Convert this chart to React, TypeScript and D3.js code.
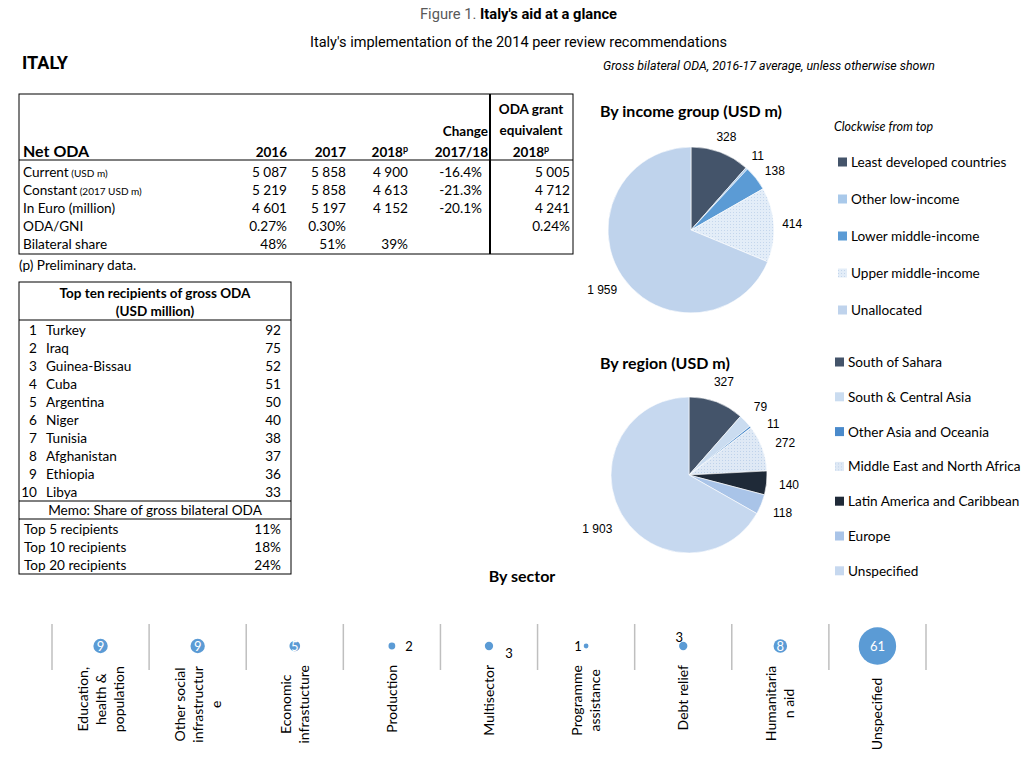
import React from 'react';
import * as d3 from 'd3';

// ---------------- DATA ----------------
const netOdaYears = ['2016', '2017', '2018'];
const netOdaRowLabels = ['Current', 'Constant', 'In Euro (million)', 'ODA/GNI', 'Bilateral share'];
const netOdaRowNotes = ['(USD m)', '(2017 USD m)', '', '', ''];
const oda2016 = ['5 087', '5 219', '4 601', '0.27%', '48%'];
const oda2017 = ['5 858', '5 858', '5 197', '0.30%', '51%'];
const oda2018 = ['4 900', '4 613', '4 152', '', '39%'];
const odaChange = ['-16.4%', '-21.3%', '-20.1%', '', ''];
const odaGrantEq = ['5 005', '4 712', '4 241', '0.24%', ''];

const recipients = ['Turkey', 'Iraq', 'Guinea-Bissau', 'Cuba', 'Argentina', 'Niger', 'Tunisia', 'Afghanistan', 'Ethiopia', 'Libya'];
const recipientValues = [92, 75, 52, 51, 50, 40, 38, 37, 36, 33];
const shareLabels = ['Top 5 recipients', 'Top 10 recipients', 'Top 20 recipients'];
const shareValues = ['11%', '18%', '24%'];

const incomeGroups = ['Least developed countries', 'Other low-income', 'Lower middle-income', 'Upper middle-income', 'Unallocated'];
const incomeValues = [328, 11, 138, 414, 1959];
const incomeLabels = ['328', '11', '138', '414', '1 959'];

const regionNames = ['South of Sahara', 'South & Central Asia', 'Other Asia and Oceania', 'Middle East and North Africa', 'Latin America and Caribbean', 'Europe', 'Unspecified'];
const regionValues = [327, 79, 11, 272, 140, 118, 1903];
const regionLabels = ['327', '79', '11', '272', '140', '118', '1 903'];

const sectorNames = ['Education, health & population', 'Other social infrastructure', 'Economic infrastucture', 'Production', 'Multisector', 'Programme assistance', 'Debt relief', 'Humanitarian aid', 'Unspecified'];
const sectorLabelLines = [
  ['Education,', 'health &', 'population'],
  ['Other social', 'infrastructur', 'e'],
  ['Economic', 'infrastucture'],
  ['Production'],
  ['Multisector'],
  ['Programme', 'assistance'],
  ['Debt relief'],
  ['Humanitaria', 'n aid'],
  ['Unspecified'],
];
const sectorValues = [9, 9, 5, 2, 3, 1, 3, 8, 61];

// ---------------- STYLE ----------------
const incomeColors = ['#44546a', '#a9c9ea', '#5b9bd5', 'url(#dotsA)', '#bfd3ec'];
const regionColors = ['#44546a', '#cadcf0', '#4a8acb', 'url(#dotsB)', '#1f2a38', '#a9c4e8', '#c6d8ef'];
const sectorLabelPlacement = ['center', 'center', 'center', 'right', 'rightBelow', 'left', 'above', 'center', 'center'];

const COND = "Roboto, 'Liberation Sans', sans-serif";
const CAL = "Lato, 'Open Sans', sans-serif";
const ARIAL = "'Liberation Sans', Arial, sans-serif";

let _ctx: CanvasRenderingContext2D | null = null;
function tw(text: string, font: string): number {
  if (!_ctx && typeof document !== 'undefined') _ctx = document.createElement('canvas').getContext('2d');
  if (!_ctx) return text.length * 6;
  _ctx.font = font;
  return _ctx.measureText(text).width;
}

function PieChart(props: {
  cx: number; cy: number; r: number; values: number[]; labels: string[]; colors: string[]; pad: number;
}) {
  const { cx, cy, r, values, labels, colors, pad } = props;
  const arcs = d3.pie<number>().sort(null).value((d) => d)(values);
  const arcGen = d3.arc<d3.PieArcDatum<number>>().innerRadius(0).outerRadius(r);
  const mids = arcs.map((a) => (a.startAngle + a.endAngle) / 2);
  const minSep = 0.22;
  for (let i = 1; i < mids.length; i++) {
    if (mids[i] - mids[i - 1] < minSep) mids[i] = mids[i - 1] + minSep;
  }
  const fs = 12;
  return (
    <g>
      <g transform={`translate(${cx},${cy})`}>
        {arcs.map((a, i) => (
          <path key={i} d={arcGen(a) || ''} fill={colors[i]} stroke="#ffffff" strokeWidth={0.6} />
        ))}
      </g>
      {arcs.map((a, i) => {
        const ang = mids[i];
        const w = tw(labels[i], `${fs}px ${ARIAL}`);
        const h = 12;
        const dist = r + pad + (w / 2) * Math.abs(Math.sin(ang)) + (h / 2) * Math.abs(Math.cos(ang));
        const x = cx + dist * Math.sin(ang);
        const y = cy - dist * Math.cos(ang);
        return (
          <text key={i} x={x} y={y} dy="0.35em" textAnchor="middle" fontFamily={ARIAL} fontSize={fs} fill="#000">
            {labels[i]}
          </text>
        );
      })}
    </g>
  );
}

function Legend(props: { x: number; y0: number; step: number; names: string[]; colors: string[] }) {
  const { x, y0, step, names, colors } = props;
  return (
    <g>
      {names.map((n, i) => (
        <g key={n} transform={`translate(${x},${y0 + i * step})`}>
          <rect x={0} y={-4.5} width={9} height={9} fill={colors[i]} />
          <text x={13} y={0} dy="0.36em" fontFamily={CAL} fontSize={13.6} fill="#000">{n}</text>
        </g>
      ))}
    </g>
  );
}

export default function App() {
  const t1 = { x0: 19, x1: 573, y0: 94, y1: 254, yh: 160, xv: 490 };
  const rowY = d3.range(netOdaRowLabels.length).map((i) => 172 + i * 18);
  const colRight = [287, 346, 408, 482, 570];
  const cols = [oda2016, oda2017, oda2018, odaChange, odaGrantEq];

  const t2 = { x0: 19, x1: 291, y0: 282, y1: 574 };
  const recY = d3.range(recipients.length).map((i) => 330 + i * 18);
  const shareY = d3.range(shareLabels.length).map((i) => 529 + i * 18);

  const xBand = d3.scaleBand<string>().domain(sectorNames).range([52, 926]);
  const rScale = d3.scaleSqrt().domain([0, 61]).range([0, 18.7]);
  const bubbleY = 646;
  const gridXs = sectorNames.map((s) => xBand(s) as number).concat([926]);

  return (
    <svg width={1036} height={766} style={{ position: 'absolute', left: 0, top: 0, background: '#fff' }}>
      <defs>
        <pattern id="dotsA" width={3} height={3} patternUnits="userSpaceOnUse">
          <rect width={3} height={3} fill="#e3edf8" />
          <rect width={1} height={1} fill="#c4d6ec" />
        </pattern>
        <pattern id="dotsB" width={3} height={3} patternUnits="userSpaceOnUse">
          <rect width={3} height={3} fill="#dfe9f5" />
          <rect width={1} height={1} fill="#bfd2ea" />
        </pattern>
      </defs>
      <rect width={1036} height={766} fill="#fff" />

      {/* Titles */}
      <text x={420} y={19} fontFamily={COND} fontSize={15.5} textLength={197} lengthAdjust="spacingAndGlyphs">
        <tspan fill="#595959">Figure 1. </tspan>
        <tspan fill="#000" fontWeight="bold">Italy's aid at a glance</tspan>
      </text>
      <text x={310} y={47} fontFamily={COND} fontSize={15} fill="#000" textLength={417} lengthAdjust="spacingAndGlyphs">
        Italy's implementation of the 2014 peer review recommendations
      </text>
      <text x={22} y={69} fontFamily={COND} fontSize={18} fontWeight="bold" fill="#000" textLength={46} lengthAdjust="spacingAndGlyphs">ITALY</text>
      <text x={603} y={70} fontFamily={COND} fontSize={12} fontStyle="italic" fontWeight={400} fill="#000" textLength={332} lengthAdjust="spacingAndGlyphs">
        Gross bilateral ODA, 2016-17 average, unless otherwise shown
      </text>

      {/* Net ODA table */}
      <g fontFamily={CAL} fill="#000">
        <rect x={t1.x0} y={t1.y0} width={t1.x1 - t1.x0} height={t1.y1 - t1.y0} fill="none" stroke="#000" strokeWidth={1} />
        <line x1={t1.x0} x2={t1.x1} y1={t1.yh} y2={t1.yh} stroke="#000" strokeWidth={1} />
        <line x1={t1.xv} x2={t1.xv} y1={t1.y0} y2={t1.y1} stroke="#000" strokeWidth={2} />
        <text x={23} y={157} fontSize={16} fontWeight="bold">Net ODA</text>
        {netOdaYears.map((yr, i) => (
          <text key={yr} x={colRight[i]} y={157} fontSize={13.5} fontWeight="bold" textAnchor="end">
            {yr}
            {i === 2 ? <tspan fontSize={9} dy={-5}>p</tspan> : null}
          </text>
        ))}
        <text x={488} y={136} fontSize={13.5} fontWeight="bold" textAnchor="end">Change</text>
        <text x={488} y={157} fontSize={13.5} fontWeight="bold" textAnchor="end">2017/18</text>
        <text x={531} y={114} fontSize={13.5} fontWeight="bold" textAnchor="middle">ODA grant</text>
        <text x={531} y={135} fontSize={13.5} fontWeight="bold" textAnchor="middle">equivalent</text>
        <text x={531} y={157} fontSize={13.5} fontWeight="bold" textAnchor="middle">
          2018<tspan fontSize={9} dy={-5}>p</tspan>
        </text>
        {netOdaRowLabels.map((lab, i) => (
          <text key={lab} x={23} y={rowY[i] + 5} fontSize={13.6}>
            {lab}
            {netOdaRowNotes[i] ? <tspan fontSize={10}>{' ' + netOdaRowNotes[i]}</tspan> : null}
          </text>
        ))}
        {cols.map((col, c) =>
          col.map((v, i) => (
            <text key={`${c}-${i}`} x={colRight[c]} y={rowY[i] + 5} fontSize={13.6} textAnchor="end">{v}</text>
          ))
        )}
        <text x={19} y={270} fontSize={13.6}>(p) Preliminary data.</text>
      </g>

      {/* Recipients table */}
      <g fontFamily={CAL} fill="#000">
        <rect x={t2.x0} y={t2.y0} width={t2.x1 - t2.x0} height={t2.y1 - t2.y0} fill="none" stroke="#000" strokeWidth={1} />
        <line x1={t2.x0} x2={t2.x1} y1={320} y2={320} stroke="#000" />
        <line x1={t2.x0} x2={t2.x1} y1={501} y2={501} stroke="#000" />
        <line x1={t2.x0} x2={t2.x1} y1={519} y2={519} stroke="#000" />
        <text x={155} y={298} fontSize={13.5} fontWeight="bold" textAnchor="middle">Top ten recipients of gross ODA</text>
        <text x={155} y={316} fontSize={13.5} fontWeight="bold" textAnchor="middle">(USD million)</text>
        {recipients.map((n, i) => (
          <g key={n}>
            <text x={37} y={recY[i] + 5} fontSize={13.6} textAnchor="end">{i + 1}</text>
            <text x={46} y={recY[i] + 5} fontSize={13.6}>{n}</text>
            <text x={281} y={recY[i] + 5} fontSize={13.6} textAnchor="end">{recipientValues[i]}</text>
          </g>
        ))}
        <text x={155} y={515} fontSize={13.6} textAnchor="middle">Memo:  Share of gross bilateral ODA</text>
        {shareLabels.map((n, i) => (
          <g key={n}>
            <text x={24} y={shareY[i] + 5} fontSize={13.6}>{n}</text>
            <text x={281} y={shareY[i] + 5} fontSize={13.6} textAnchor="end">{shareValues[i]}</text>
          </g>
        ))}
      </g>

      {/* Income pie */}
      <text x={600} y={117} fontFamily={CAL} fontSize={16} fontWeight="bold" fill="#000">By income group (USD m)</text>
      <PieChart cx={691} cy={230} r={83} values={incomeValues} labels={incomeLabels} colors={incomeColors} pad={8} />
      <text x={834} y={131} fontFamily={CAL} fontSize={12.5} fontStyle="italic" fill="#000">Clockwise from top</text>
      <Legend x={838} y0={162} step={37} names={incomeGroups} colors={incomeColors} />

      {/* Region pie */}
      <text x={600} y={369} fontFamily={CAL} fontSize={16} fontWeight="bold" fill="#000">By region (USD m)</text>
      <PieChart cx={689} cy={475} r={78} values={regionValues} labels={regionLabels} colors={regionColors} pad={12} />
      <Legend x={835} y0={362} step={34.8} names={regionNames} colors={regionColors} />

      {/* Sector */}
      <text x={522} y={582} fontFamily={CAL} fontSize={16} fontWeight="bold" fill="#000" textAnchor="middle">By sector</text>
      {gridXs.map((x, i) => (
        <line key={i} x1={x} x2={x} y1={624} y2={670} stroke="#bfbfbf" strokeWidth={1.5} />
      ))}
      {sectorNames.map((s, i) => {
        const xc = (xBand(s) as number) + xBand.bandwidth() / 2;
        const r = rScale(sectorValues[i]);
        const pl = sectorLabelPlacement[i];
        let lx = xc, ly = bubbleY, anchor: 'start' | 'middle' | 'end' = 'middle', fill = '#fff';
        if (pl === 'right') { lx = xc + r + 10; anchor = 'start'; fill = '#000'; }
        else if (pl === 'rightBelow') { lx = xc + r + 12; ly = bubbleY + 7; anchor = 'start'; fill = '#000'; }
        else if (pl === 'left') { lx = xc - r - 2; anchor = 'end'; fill = '#000'; }
        else if (pl === 'above') { lx = xc - 4; ly = bubbleY - r - 5; anchor = 'middle'; fill = '#000'; }
        const lines = sectorLabelLines[i];
        const maxW = d3.max(lines, (l) => tw(l, `14px ${CAL}`)) || 0;
        const top = Math.max(665, bubbleY + r + 13);
        return (
          <g key={s}>
            <circle cx={xc} cy={bubbleY} r={r} fill="#5b9bd5" />
            <text x={lx} y={ly} dy="0.36em" textAnchor={anchor} fontFamily={CAL} fontSize={13} fill={fill}>
              {sectorValues[i]}
            </text>
            <g transform={`translate(${xc},${top}) rotate(-90)`}>
              {lines.map((l, j) => (
                <text key={j} x={-maxW / 2} y={(j - (lines.length - 1) / 2) * 18} dy="0.36em" textAnchor="middle" fontFamily={CAL} fontSize={14} fill="#000">
                  {l}
                </text>
              ))}
            </g>
          </g>
        );
      })}
    </svg>
  );
}
